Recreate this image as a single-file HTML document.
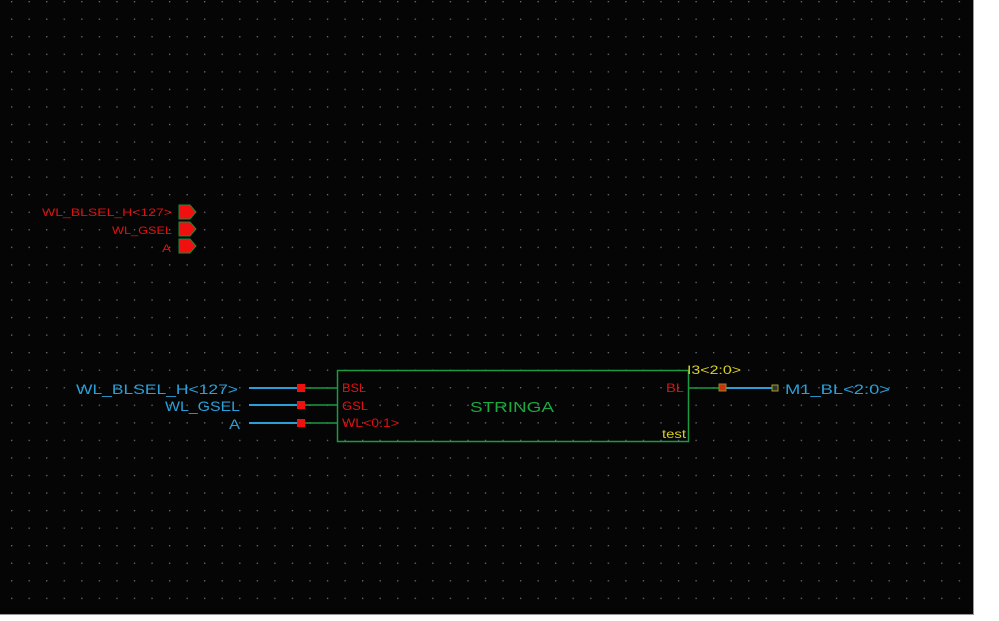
<!DOCTYPE html>
<html><head><style>
body{margin:0;width:999px;height:621px;background:#fff;overflow:hidden}
svg{display:block}
text{font-family:"Liberation Sans",sans-serif}
</style></head><body>
<svg width="999" height="621" xmlns="http://www.w3.org/2000/svg">
<defs><pattern id="g" x="11" y="1" width="17.55" height="17.55" patternUnits="userSpaceOnUse"><rect x="0" y="0" width="1.3" height="1.3" fill="#6e6e80"/></pattern></defs>
<rect x="0" y="0" width="973" height="614" fill="#050505"/>
<rect x="0" y="0" width="973" height="614" fill="url(#g)"/>
<line x1="973.5" y1="0" x2="973.5" y2="614" stroke="#999"/>
<line x1="0" y1="614.5" x2="974" y2="614.5" stroke="#999"/>
<g font-size="11" fill="#e01010" lengthAdjust="spacingAndGlyphs">
<text x="42" y="216" textLength="130" lengthAdjust="spacingAndGlyphs">WL_BLSEL_H&lt;127&gt;</text>
<text x="112" y="234" textLength="60" lengthAdjust="spacingAndGlyphs">WL_GSEL</text>
<text x="162" y="252" textLength="9" lengthAdjust="spacingAndGlyphs">A</text>
</g>
<g fill="#f01010" stroke="#1a8a3a" stroke-width="1">
<polygon points="179,205 190,205 196,212 190,219 179,219"/>
<polygon points="179,222 190,222 196,229 190,236 179,236"/>
<polygon points="179,239 190,239 196,246 190,253 179,253"/>
</g>
<g font-size="14" fill="#2aa0d8">
<text x="76" y="394" textLength="162" lengthAdjust="spacingAndGlyphs">WL_BLSEL_H&lt;127&gt;</text>
<text x="165" y="411" textLength="75" lengthAdjust="spacingAndGlyphs">WL_GSEL</text>
<text x="229" y="429" textLength="11" lengthAdjust="spacingAndGlyphs">A</text>
</g>
<g stroke="#2aa0d8" stroke-width="2">
<line x1="249" y1="388" x2="301" y2="388"/>
<line x1="249" y1="405" x2="301" y2="405"/>
<line x1="249" y1="423" x2="301" y2="423"/>
<line x1="722" y1="388" x2="775" y2="388"/>
</g>
<g stroke="#1a9a45" stroke-width="1.5" fill="none">
<line x1="301" y1="388" x2="337" y2="388"/>
<line x1="301" y1="405" x2="337" y2="405"/>
<line x1="301" y1="423" x2="337" y2="423"/>
<line x1="688" y1="388" x2="722" y2="388"/>
<rect x="337.5" y="370.5" width="351" height="71"/>
</g>
<g fill="#f01010">
<rect x="297" y="384" width="8" height="8"/>
<rect x="297" y="401" width="8" height="8"/>
<rect x="297" y="419" width="8" height="8"/>
</g>
<rect x="719" y="384" width="7" height="7" fill="#d03010" stroke="#8a8a20"/>
<rect x="772" y="385" width="6" height="6" fill="#333" stroke="#a0a020"/>
<g font-size="12" fill="#e01010">
<text x="342" y="392" textLength="24" lengthAdjust="spacingAndGlyphs">BSL</text>
<text x="342" y="410" textLength="26" lengthAdjust="spacingAndGlyphs">GSL</text>
<text x="342" y="427" textLength="57" lengthAdjust="spacingAndGlyphs">WL&lt;0:1&gt;</text>
<text x="666" y="392" textLength="18" lengthAdjust="spacingAndGlyphs">BL</text>
</g>
<text x="470" y="412" font-size="15" fill="#1aaa40" textLength="84" lengthAdjust="spacingAndGlyphs">STRINGA</text>
<g font-size="12" fill="#d8d020">
<text x="687" y="374" textLength="54" lengthAdjust="spacingAndGlyphs">I3&lt;2:0&gt;</text>
<text x="662" y="438" textLength="24" lengthAdjust="spacingAndGlyphs">test</text>
</g>
<text x="785" y="394" font-size="14" fill="#2aa0d8" textLength="105" lengthAdjust="spacingAndGlyphs">M1_BL&lt;2:0&gt;</text>
</svg>
</body></html>
